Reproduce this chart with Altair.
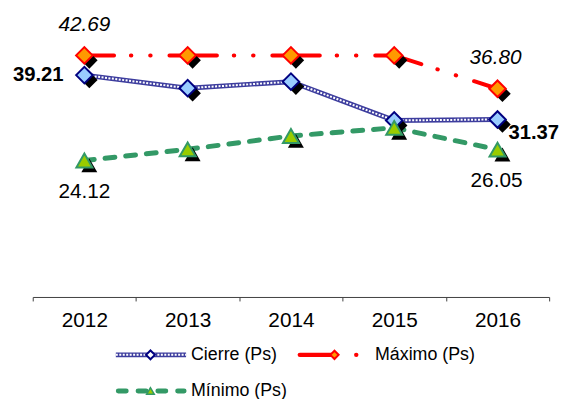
import altair as alt
import pandas as pd

# ---- data ----
year_labels = ["2012", "2013", "2014", "2015", "2016"]
cierre = [39.21, 36.90, 38.05, 31.20, 31.37]
maximo = [42.69, 42.69, 42.69, 42.69, 36.80]
minimo = [24.12, 26.10, 28.45, 29.90, 26.05]
legend_names = ["Cierre (Ps)", "Máximo (Ps)", "Mínimo (Ps)"]

df = pd.DataFrame({"year": year_labels, "cierre": cierre, "maximo": maximo, "minimo": minimo})

FONT = "Liberation Sans"
W, H = 522, 286

xb = alt.X("year:N", sort=year_labels,
           scale=alt.Scale(paddingInner=0, paddingOuter=0),
           axis=alt.Axis(title=None, labelAngle=0, tickBand="extent", tickSize=4,
                         domainColor="#404040", tickColor="#404040", domainWidth=1,
                         labelFont=FONT, labelFontSize=21, labelColor="black",
                         labelPadding=9, grid=False))
yscale = alt.Scale(domain=[0, 50], nice=False, zero=True)


def Y(field):
    return alt.Y(f"{field}:Q", scale=yscale, axis=None)


base = alt.Chart(df)

# lines
cierre_line = base.mark_line(color="#3d3d9e", strokeWidth=5).encode(x=xb, y=Y("cierre"))
cierre_line2 = base.mark_line(color="white", strokeWidth=2, strokeDash=[2, 1.5]).encode(x=xb, y=Y("cierre"))
max_line = base.mark_line(color="#ff0000", strokeWidth=4, strokeCap="round",
                          strokeDash=[48, 17, 0.5, 19, 0.5, 19], strokeDashOffset=18).encode(x=xb, y=Y("maximo"))
min_line = base.mark_line(color="#339966", strokeWidth=5, strokeCap="round",
                          strokeDash=[10, 11]).encode(x=xb, y=Y("minimo"))

# shadows
sh = dict(color="black", filled=True, opacity=1, xOffset=5, yOffset=5)
cierre_sh = base.mark_point(shape="diamond", size=280, **sh).encode(x=xb, y=Y("cierre"))
max_sh = base.mark_point(shape="diamond", size=280, **sh).encode(x=xb, y=Y("maximo"))
min_sh = base.mark_point(shape="triangle-up", size=260, **sh).encode(x=xb, y=Y("minimo"))

# markers
cierre_pt = base.mark_point(shape="diamond", size=280, filled=True, fill="#99ccff", stroke="#000080",
                            strokeWidth=2, opacity=1).encode(x=xb, y=Y("cierre"))
max_pt = base.mark_point(shape="diamond", size=280, filled=True, fill="#ff9900", stroke="#ff0000",
                         strokeWidth=2, opacity=1).encode(x=xb, y=Y("maximo"))
min_pt = base.mark_point(shape="triangle-up", size=260, filled=True, fill="#99cc00", stroke="#339966",
                         strokeWidth=2, opacity=1).encode(x=xb, y=Y("minimo"))


# value labels
def lab(year, field, size=21, **kw):
    return base.transform_filter(alt.datum.year == year).mark_text(
        font=FONT, fontSize=size, color="black", baseline="middle", **kw
    ).encode(x=xb, y=Y(field), text=alt.Text(f"{field}:Q", format=".2f"))


labels = [
    lab("2012", "maximo", fontStyle="italic", align="center", dy=-31),
    lab("2016", "maximo", fontStyle="italic", align="center", dx=-2, dy=-31),
    lab("2012", "cierre", size=20.5, fontWeight="bold", align="right", dx=-21),
    lab("2016", "cierre", size=20.5, fontWeight="bold", align="left", dx=11, dy=14),
    lab("2012", "minimo", align="center", dy=32),
    lab("2016", "minimo", align="center", dx=-1, dy=32),
]

# legend (drawn below the plot)
lg = pd.DataFrame({"name": legend_names})
one = lambda i: alt.Chart(lg.iloc[[i]])
row1, row2 = 344.5, 381
LF = 18

leg = [
    one(0).mark_rule(color="#3d3d9e", strokeWidth=5).encode(x=alt.value(84), x2=alt.value(155), y=alt.value(row1)),
    one(0).mark_rule(color="white", strokeWidth=2, strokeDash=[2, 1.5]).encode(x=alt.value(84), x2=alt.value(155), y=alt.value(row1)),
    one(0).mark_point(shape="diamond", size=80, filled=True, fill="white", stroke="#000080", strokeWidth=2, opacity=1).encode(x=alt.value(119), y=alt.value(row1)),
    one(0).mark_text(font=FONT, fontSize=LF, align="left", baseline="middle").encode(x=alt.value(160), y=alt.value(row1), text="name:N"),

    one(1).mark_rule(color="#ff0000", strokeWidth=4.5, strokeCap="round").encode(x=alt.value(270), x2=alt.value(304), y=alt.value(row1)),
    one(1).mark_point(shape="diamond", size=70, filled=True, fill="#ff9900", stroke="#ff0000", strokeWidth=2, opacity=1).encode(x=alt.value(305), y=alt.value(row1)),
    one(1).mark_point(shape="circle", size=20, filled=True, color="#ff0000", opacity=1).encode(x=alt.value(327), y=alt.value(row1)),
    one(1).mark_text(font=FONT, fontSize=LF, align="left", baseline="middle").encode(x=alt.value(346), y=alt.value(row1), text="name:N"),

    one(2).mark_rule(color="#339966", strokeWidth=5, strokeCap="round", strokeDash=[8, 12]).encode(x=alt.value(86.5), x2=alt.value(153), y=alt.value(row2)),
    one(2).mark_point(shape="triangle-up", size=60, filled=True, fill="#99cc00", stroke="#339966", strokeWidth=1.5, opacity=1).encode(x=alt.value(119), y=alt.value(row2)),
    one(2).mark_text(font=FONT, fontSize=LF, align="left", baseline="middle").encode(x=alt.value(160), y=alt.value(row2), text="name:N"),
]

chart = alt.layer(
    cierre_line, cierre_line2, max_line, min_line,
    cierre_sh, max_sh, min_sh,
    cierre_pt, max_pt, min_pt,
    *labels, *leg,
).properties(
    width=W, height=H,
    autosize=alt.AutoSizeParams(type="none"),
    padding={"left": 25, "top": 4, "right": 14, "bottom": 101},
).configure_view(stroke=None)

chart.save("out.html", embed_options={"renderer": "svg", "actions": False})
